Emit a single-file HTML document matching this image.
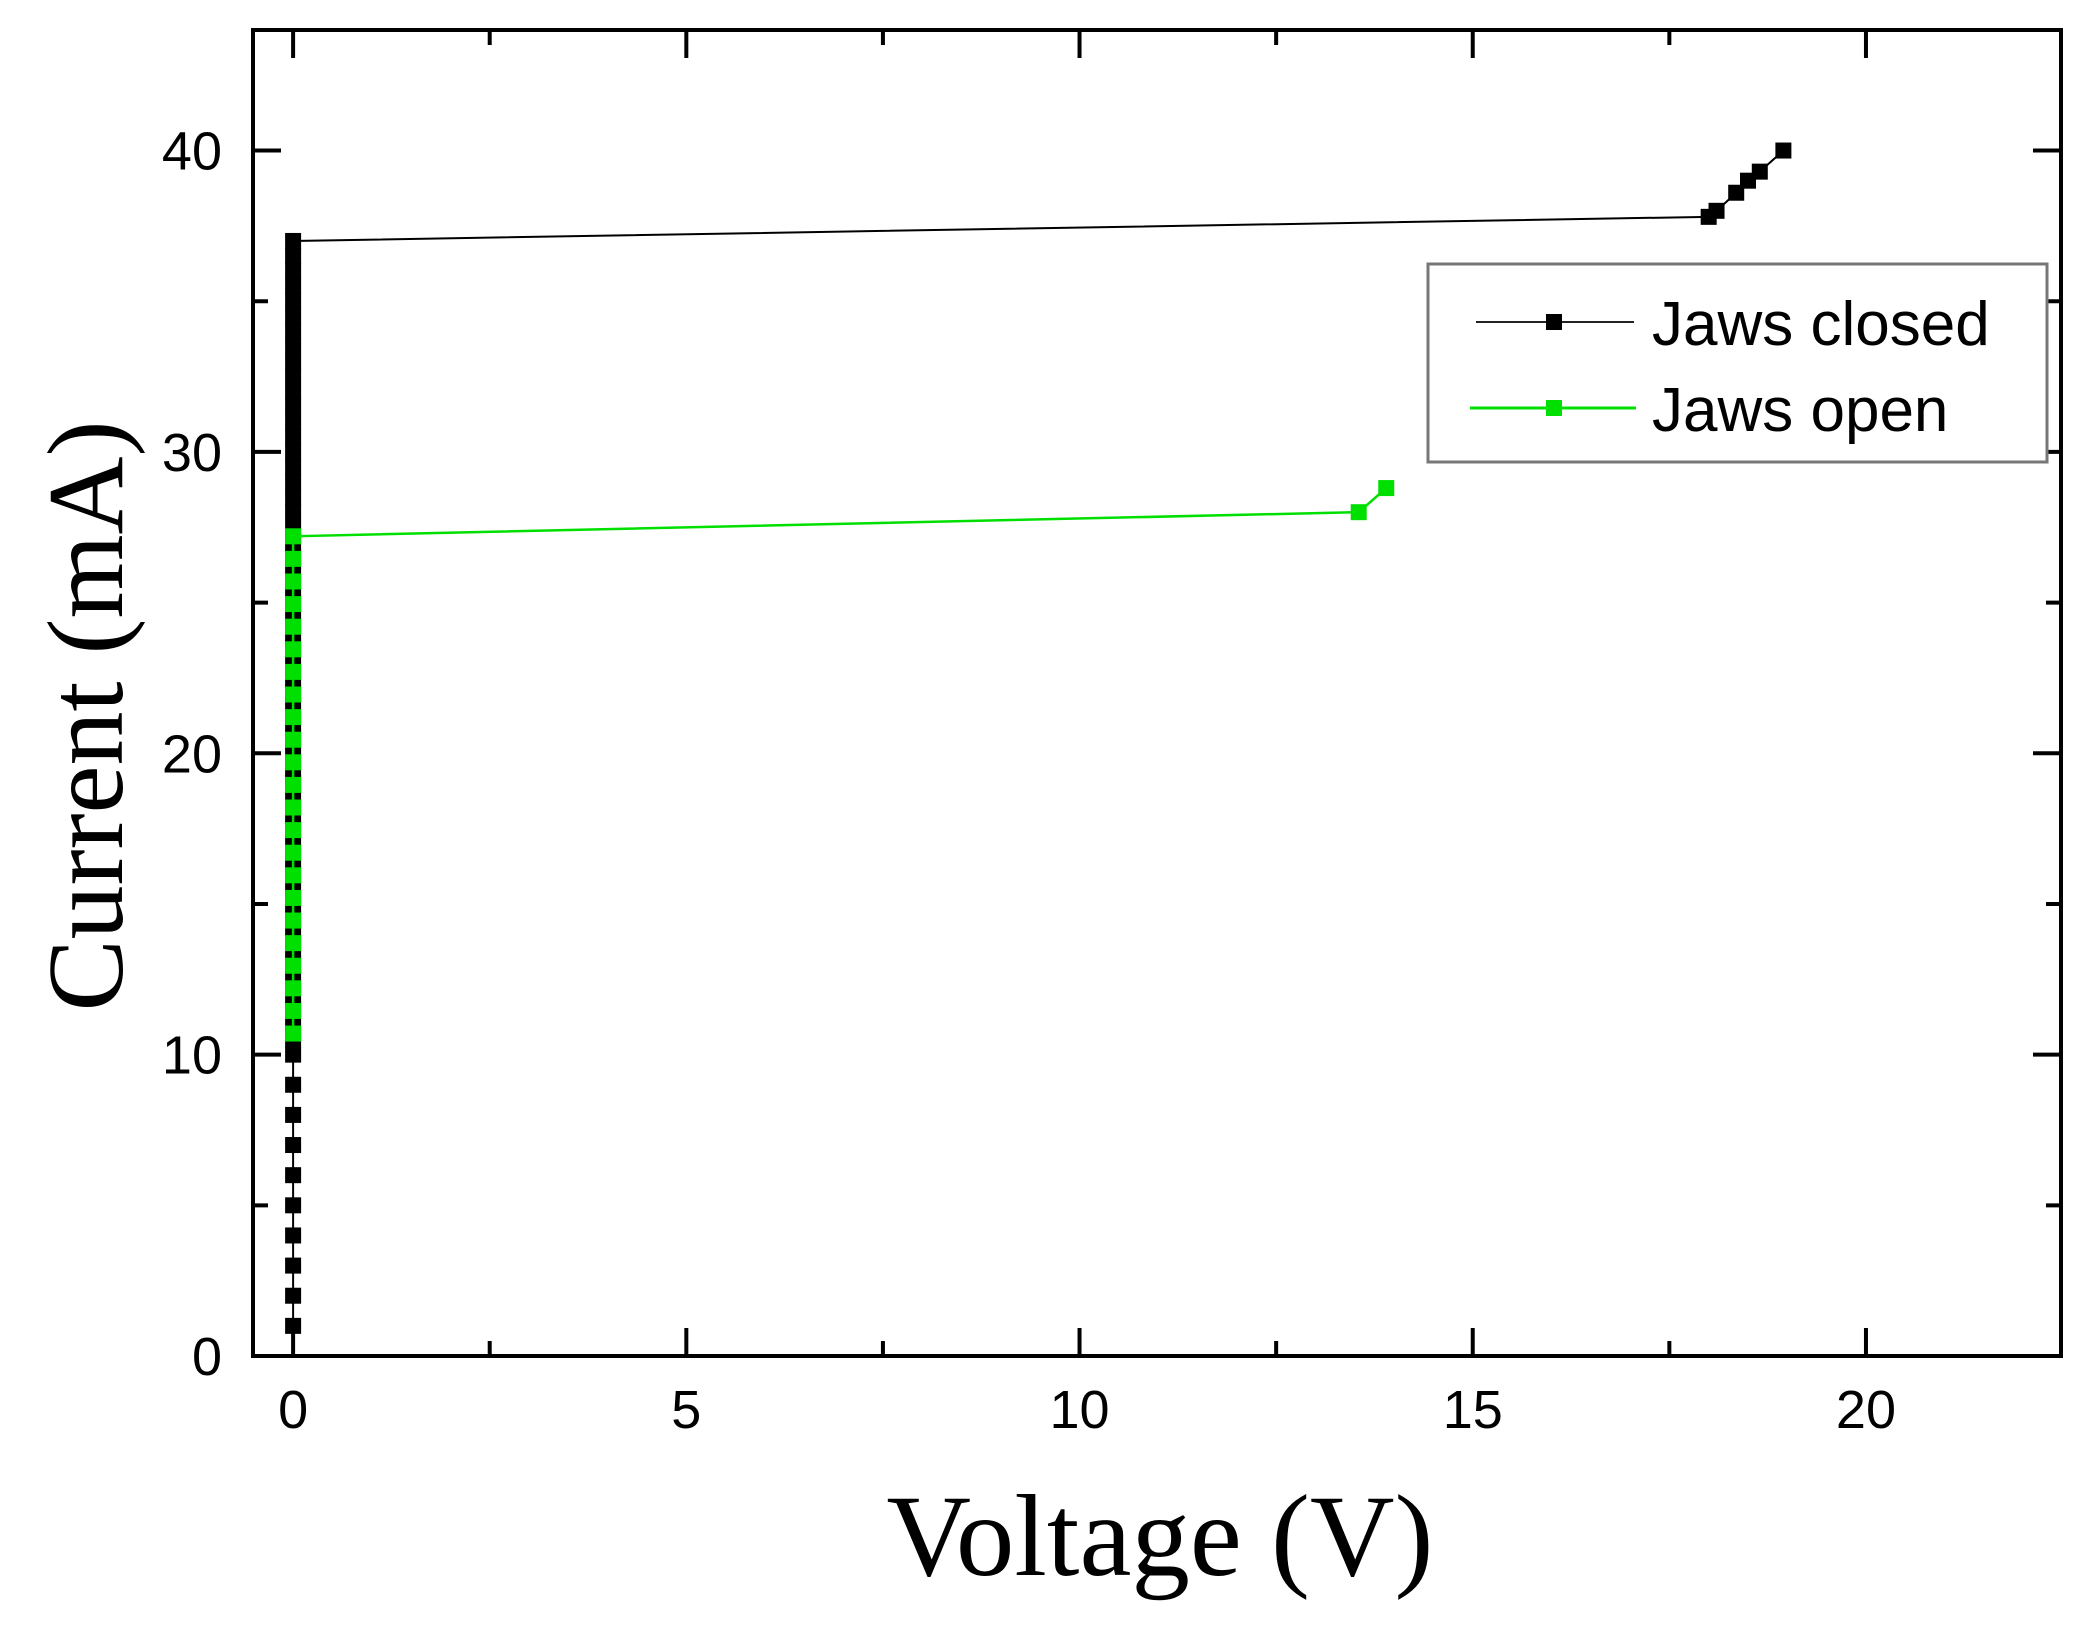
<!DOCTYPE html>
<html><head><meta charset="utf-8"><style>
html,body{margin:0;padding:0;background:#fff;width:2084px;height:1637px;overflow:hidden}
svg{display:block}
</style></head><body>
<svg id="chart" width="2084" height="1637" xmlns="http://www.w3.org/2000/svg">
<g id="axes"></g>
<g id="series"></g>
<text x="1160" y="1575" text-anchor="middle" font-family="Liberation Serif, serif" font-size="117">Voltage (V)</text>
<text transform="translate(122,716) rotate(-90)" text-anchor="middle" font-family="Liberation Serif, serif" font-size="108">Current (mA)</text>
<g>
<rect x="1428" y="264" width="619" height="198" fill="#fff" stroke="#777" stroke-width="3"/>
<g>
<line x1="1476" y1="322" x2="1634" y2="322" stroke="#222" stroke-width="2"/>
<rect x="1546" y="314" width="16" height="16" fill="#000"/>
<text x="1652" y="345" font-family="Liberation Sans, sans-serif" font-size="62">Jaws closed</text>
</g>
<g>
<line x1="1470" y1="408" x2="1636" y2="408" stroke="#00e000" stroke-width="3"/>
<rect x="1546" y="400" width="16" height="16" fill="#00e000"/>
<text x="1652" y="431" font-family="Liberation Sans, sans-serif" font-size="62">Jaws open</text>
</g>
</g>
</svg>
<script>
const xTicks=[0,5,10,15,20];
const yTicks=[0,10,20,30,40];
const closedV=[0,0,0,0,0,0,0,0,0,0,0,0,0,0,0,0,0,0,0,0,0,0,0,0,0,0,0,0,0,0,0,0,0,0,0,0,0,0,0,0,0,0,0,0,0,0,0,0,0,0,0,0,0,0,0,0,0,0,0,0,0,0,0,0,18.0,18.1,18.35,18.5,18.65,18.95];
const closedI=[1,2,3,4,5,6,7,8,9,10,10.5,11,11.5,12,12.5,13,13.5,14,14.5,15,15.5,16,16.5,17,17.5,18,18.5,19,19.5,20,20.5,21,21.5,22,22.5,23,23.5,24,24.5,25,25.5,26,26.5,27,27.5,28,28.5,29,29.5,30,30.5,31,31.5,32,32.5,33,33.5,34,34.5,35,35.5,36,36.5,37,37.8,38,38.6,39,39.3,40];
const openV=[0,0,0,0,0,0,0,0,0,0,0,0,0,0,0,0,0,0,0,0,0,0,0,13.55,13.9];
const openI=[10.7,11.45,12.2,12.95,13.7,14.45,15.2,15.95,16.7,17.45,18.2,18.95,19.7,20.45,21.2,21.95,22.7,23.45,24.2,24.95,25.7,26.45,27.2,28,28.8];
const X0=-0.51,X1=22.48,Y0=0,Y1=44;
const L=253,R=2061,T=30,B=1356;
function sx(v){return L+(v-X0)/(X1-X0)*(R-L);}
function sy(v){return B-(v-Y0)/(Y1-Y0)*(B-T);}
const NS='http://www.w3.org/2000/svg';
function mk(tag,attrs,parent){const e=document.createElementNS(NS,tag);for(const k in attrs)e.setAttribute(k,attrs[k]);parent.appendChild(e);return e;}
const ax=document.getElementById('axes');
const frame=mk('rect',{x:L,y:T,width:R-L,height:B-T,fill:'none',stroke:'#000','stroke-width':4},ax);


for(let i=0;i<xTicks.length;i++){
  const v=xTicks[i],x=sx(v);
  const t=mk('path',{d:`M${x},${B}v-28M${x},${T}v28`,stroke:'#000','stroke-width':4},ax);
  
  
  const m=sx(v+2.5);
  if(v+2.5<X1){const mt=mk('path',{d:`M${m},${B}v-15M${m},${T}v15`,stroke:'#000','stroke-width':4},ax);
  
  }
  const lb=mk('text',{x:x,y:1428,'text-anchor':'middle','font-family':'Liberation Sans, sans-serif','font-size':54},ax);
  lb.textContent=v;
  
  
}
for(let i=0;i<yTicks.length;i++){
  const v=yTicks[i],y=sy(v);
  const t=mk('path',{d:`M${L},${y}h28M${R},${y}h-28`,stroke:'#000','stroke-width':4},ax);
  
  
  const m=sy(v+5);
  if(v+5<Y1){const mt=mk('path',{d:`M${L},${m}h15M${R},${m}h-15`,stroke:'#000','stroke-width':4},ax);
  
  }
  const lb=mk('text',{x:222,y:y+19,'text-anchor':'end','font-family':'Liberation Sans, sans-serif','font-size':54},ax);
  lb.textContent=v;
  
  
}
const sg=document.getElementById('series');
function series(V,I,color,lw,name){
  const g=mk('g',{},sg);
  
  
  const pts=V.map((v,i)=>sx(v)+','+sy(I[i])).join(' ');
  const pl=mk('polyline',{points:pts,fill:'none',stroke:color,'stroke-width':lw},g);
  
  
  for(let i=0;i<V.length;i++){
    const r=mk('rect',{x:sx(V[i])-8,y:sy(I[i])-8,width:16,height:16,fill:color},g);
    
    
  }
}
series(closedV,closedI,'#000',2,'jaws-closed');
series(openV,openI,'#00e000',2.5,'jaws-open');
</script>
</body></html>
